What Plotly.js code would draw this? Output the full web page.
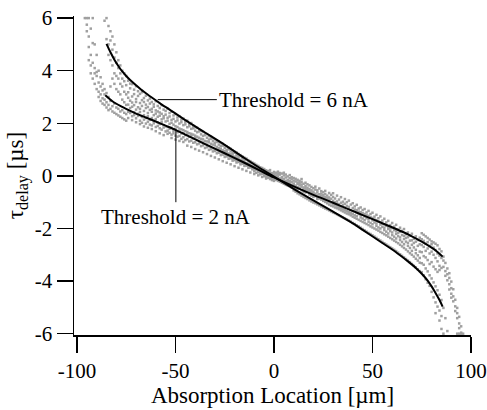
<!DOCTYPE html>
<html>
<head>
<meta charset="utf-8">
<script src="https://cdn.plot.ly/plotly-3.0.1.min.js"></script>
<style>html,body{margin:0;padding:0;background:#fff;}#chart{width:487px;height:410px;}</style>
</head>
<body>
<div id="chart"></div>
<script>
// Measured scatter: absorption location columns (µm) and the tau values (µs) seen in each column
const cloudX = [
-96,-95,-94,-93,-92,-91,-90,-89,-88,-87,-86,-85,-84,-83,-82,-81,-80,-79,-78,-77,-76,-75,
-74,-73,-72,-71,-70,-69,-68,-67,-66,-65,-64,-63,-62,-61,-60,-59,-58,-57,-56,-55,-54,-53,-52,-51,
-50,-49,-48,-47,-46,-45,-44,-43,-42,-41,-40,-39,-38,-37,-36,-35,-34,-33,-32,-31,-30,-29,-28,-27,
-26,-25,-24,-23,-22,-21,-20,-19,-18,-17,-16,-15,-14,-13,-12,-11,-10,-9,-8,-7,-6,-5,-4,-3,-2,-1,0,
1,2,3,4,5,6,7,8,9,10,11,12,13,14,15,16,17,18,19,20,21,22,23,24,25,26,27,28,29,30,
31,32,33,34,35,36,37,38,39,40,41,42,43,44,45,46,47,48,49,50,51,52,53,54,55,56,57,58,59,60,
61,62,63,64,65,66,67,68,69,70,71,72,73,74,75,76,77,78,79,80,81,82,83,84,85,86,87,88,89,90,
91,92,93,94,95,96
];
const cloudY = [
[6.0],[6.0,5.75,5.5],[6.0,5.3,4.9,4.4],[5.6,4.6,4.2,3.9],[6.0,5.05,4.3,3.7],[5.0,4.1,3.9,3.5],
[4.6,3.95,3.8,3.3],[4.0,3.55,3.2,3.0],[3.75,3.4,3.1,2.85],[3.5,3.25,2.95,2.75],[5.9,3.3,3.1,2.9,2.7],
[6.0,5.2,3.15,2.8,2.6],[5.7,5.0,4.6,3.0,2.7,2.5],[5.5,5.15,4.4,3.4,2.85,2.55],[5.3,4.8,4.2,3.7,2.65,2.45],
[5.0,4.5,3.9,3.5,2.75,2.4],[4.7,4.3,3.8,3.3,2.6,2.35],[4.4,4.1,3.7,3.2,2.55,2.3],[4.2,3.9,3.5,3.1,2.45,2.25],
[4.0,3.7,3.4,2.9,2.5,2.2],[3.9,3.6,3.2,2.8,2.4,2.15],[3.8,3.45,3.1,2.7,2.35,2.1],
[3.62,3.18,2.97,2.71,2.44,2.2],[3.51,3.33,2.86,2.58,2.39],[3.49,3.02,2.79,2.63,2.27,2.12],[3.28,3.11,2.69,2.42,2.31],
[3.41,2.92,2.81,2.52,2.19,2.04],[3.22,3.04,2.61,2.36,2.28],[3.12,2.77,2.55,2.43,2.1,1.97],[3.18,2.88,2.66,2.24,2.02],
[2.96,2.81,2.47,2.31,2.14,1.88],[3.05,2.71,2.58,2.2,1.99],[2.87,2.62,2.39,2.27,2.06,1.83],[2.94,2.75,2.51,2.13,1.95],
[2.81,2.55,2.44,2.2,1.92,1.78],[2.72,2.63,2.31,2.09,2.0],[2.84,2.49,2.37,2.16,1.86,1.7],[2.66,2.45,2.25,2.03,1.9],
[2.58,2.41,2.29,1.97,1.81,1.62],[2.69,2.36,2.15,2.04,1.76],[2.52,2.27,2.19,1.93,1.84,1.55],[2.47,2.33,2.07,1.88,1.69],
[2.55,2.21,2.1,1.86,1.72,1.6],[2.39,2.26,1.98,1.79,1.64],[2.44,2.13,2.02,1.83,1.57,1.44],[2.3,2.17,1.95,1.71,1.62],
[2.35,2.07,1.89,1.78,1.53,1.38],[2.22,2.11,1.86,1.66,1.49],[2.27,1.99,1.8,1.69,1.52,1.33],[2.14,2.04,1.77,1.61,1.41],
[2.18,1.93,1.74,1.63,1.47,1.29],[2.06,1.96,1.7,1.55,1.36],[2.1,1.85,1.67,1.58,1.4,1.15],[1.98,1.89,1.62,1.49,1.31],
[2.01,1.79,1.6,1.52,1.34,1.1],[1.9,1.81,1.57,1.43,1.26],[1.85,1.72,1.53,1.46,1.28,1.02],[1.83,1.66,1.49,1.37,1.2],
[1.76,1.69,1.45,1.33,1.23,0.96],[1.71,1.58,1.41,1.3,1.13],[1.68,1.52,1.39,1.27,1.16,0.9],[1.61,1.55,1.33,1.22,1.06],
[1.59,1.45,1.31,1.19,1.09,0.83],[1.52,1.38,1.28,1.13,0.99],[1.49,1.41,1.22,1.1,1.02,0.76],[1.43,1.32,1.19,1.05,0.93],
[1.39,1.26,1.16,1.01,0.95,0.7],[1.35,1.29,1.1,0.98,0.86],[1.3,1.19,1.06,0.93,0.88,0.63],[1.24,1.13,1.03,0.9,0.79],
[1.21,1.15,0.97,0.86,0.81,0.56],[1.16,1.06,0.94,0.82,0.72],[1.12,0.99,0.91,0.78,0.74,0.5],[1.07,1.01,0.85,0.75,0.65],
[1.03,0.93,0.82,0.71,0.67,0.44],[0.97,0.87,0.79,0.66,0.58],[0.92,0.88,0.73,0.63,0.6,0.37],[0.89,0.8,0.7,0.59,0.51],
[0.83,0.74,0.66,0.56,0.53,0.31],[0.79,0.75,0.61,0.52,0.44],[0.74,0.67,0.58,0.49,0.46,0.25],[0.69,0.61,0.55,0.45,0.38],
[0.66,0.62,0.49,0.42,0.39,0.19],[0.6,0.55,0.46,0.38,0.31],[0.56,0.49,0.43,0.34,0.32,0.13],[0.51,0.48,0.37,0.3,0.25],
[0.47,0.42,0.34,0.27,0.18,0.07],[0.42,0.35,0.31,0.23,0.12],[0.38,0.36,0.26,0.19,0.14,0.02],[0.33,0.29,0.22,0.16,0.06],
[0.3,0.23,0.19,0.12,0.08,-0.04],[0.26,0.22,0.14,0.08,-0.01],[0.21,0.16,0.11,0.05,-0.03,-0.1],[0.18,0.1,0.07,0.01,-0.07],
[0.13,0.09,0.02,-0.03,-0.12,0.22],[0.1,0.03,-0.02,-0.07,-0.16],[0.06,0.02,-0.05,-0.11,-0.19,0.15],
[0.12,-0.04,-0.09,0.02,-0.15],[-0.02,0.07,-0.14,-0.19,-0.08,0.16],[-0.17,0.05,-0.1,-0.22,0.11],[-0.05,-0.26,-0.13,0.09,-0.2],
[-0.11,-0.3,0.02,-0.21,-0.16,0.12],[-0.34,-0.06,-0.19,-0.25,0.05],[-0.15,-0.37,-0.28,-0.02,-0.22],[-0.09,-0.31,-0.4,-0.2,0.03,-0.27],
[-0.44,-0.13,-0.24,-0.35,-0.05],[-0.29,-0.55,-0.18,-0.4,-0.08,-0.34],[-0.21,-0.6,-0.37,-0.11,-0.45],[-0.66,-0.3,-0.15,-0.42,-0.5,-0.25],
[-0.36,-0.7,-0.19,-0.47,-0.28],[-0.23,-0.75,-0.41,-0.55,-0.33,-0.12],[-0.5,-0.8,-0.3,-0.44,-0.6],[-0.84,-0.38,-0.54,-0.26,-0.63,-0.47],
[-0.45,-0.88,-0.32,-0.6,-0.53],[-0.93,-0.5,-0.66,-0.36,-0.71,-0.58],[-0.42,-0.97,-0.63,-0.55,-0.75],[-0.6,-1.01,-0.47,-0.72,-0.8,-0.66],
[-1.04,-0.52,-0.77,-0.68,-0.41],[-0.63,-1.08,-0.83,-0.55,-0.74,-0.88],[-1.12,-0.7,-0.48,-0.86,-0.79],[-0.58,-1.16,-0.9,-0.75,-0.67,-0.84],
[-1.2,-0.81,-0.95,-0.62,-0.73],[-0.88,-1.24,-0.69,-0.99,-0.57,-0.8],[-1.27,-0.75,-0.93,-1.04,-0.85],[-0.65,-1.31,-0.98,-0.82,-1.09,-0.9],
[-1.35,-0.87,-0.72,-1.02,-1.13],[-0.95,-1.39,-0.8,-1.07,-1.16,-0.66],
[-1.42,-1.0,-0.86,-1.2,-1.1],[-0.75,-1.46,-1.13,-0.97,-1.23,-1.05],[-1.5,-0.9,-1.08,-1.27,-1.18],[-1.02,-1.54,-0.81,-1.31,-1.15,-1.22],
[-1.58,-1.1,-0.98,-1.35,-1.26],[-0.88,-1.62,-1.2,-1.39,-1.06,-1.3],[-1.66,-1.14,-1.34,-1.0,-1.43],[-1.25,-1.7,-0.94,-1.46,-1.37,-1.18],
[-1.74,-1.3,-1.09,-1.5,-1.41],[-1.04,-1.79,-1.45,-1.22,-1.55,-1.34],[-1.83,-1.28,-1.5,-1.16,-1.59],[-1.4,-1.88,-1.1,-1.63,-1.53,-1.3],
[-1.92,-1.45,-1.24,-1.67,-1.36],[-1.2,-1.97,-1.58,-1.49,-1.71,-1.38],[-2.02,-1.42,-1.62,-1.3,-1.75],[-1.54,-2.07,-1.26,-1.79,-1.68,-1.45],
[-2.12,-1.61,-1.39,-1.83,-1.5],[-1.33,-2.17,-1.74,-1.64,-1.87,-1.52],[-2.21,-1.57,-1.79,-1.45,-1.92],[-1.69,-2.26,-1.4,-1.96,-1.84,-1.6],
[-2.31,-1.77,-1.55,-2.0,-1.66],[-1.48,-2.36,-1.9,-1.81,-2.04,-1.68],[-2.41,-1.73,-1.96,-1.61,-2.08],[-1.85,-2.46,-1.54,-2.13,-2.0,-1.76],
[-2.51,-1.94,-1.7,-2.17,-1.83],[-1.63,-2.56,-2.06,-1.97,-2.22,-1.84],[-2.61,-1.9,-2.12,-1.77,-2.26],[-2.02,-2.66,-1.71,-2.31,-2.19,-1.93],
[-2.71,-2.1,-1.87,-2.36,-2.0],[-1.79,-2.76,-2.25,-2.15,-2.41,-1.98],
[-2.81,-2.06,-2.31,-1.93,-2.46],[-2.2,-2.86,-1.86,-2.51,-2.38,-2.1],[-2.92,-2.29,-2.04,-2.56,-2.17],[-1.97,-2.98,-2.44,-2.34,-2.62,-2.13],
[-3.04,-2.25,-2.51,-2.09,-2.68],[-2.4,-3.1,-2.02,-2.74,-2.6,-2.28],[-3.16,-2.5,-2.22,-2.8,-2.36],[-2.15,-3.22,-2.66,-2.55,-2.87,-2.33],
[-3.28,-2.46,-2.74,-2.27,-2.94],[-2.62,-3.35,-2.2,-3.0,-2.85,-2.45],[-3.42,-2.72,-2.39,-3.07,-2.55],[-2.3,-3.48,-2.94,-2.81,-3.15,-2.5],
[-3.55,-2.66,-3.02,-2.44,-3.22],[-2.88,-3.62,-2.35,-3.3,-3.12,-2.6],
[-2.18,-2.9,-2.41,-3.32,-2.63,-3.66],[-2.47,-2.24,-3.05,-2.7,-3.78,-3.38],[-2.3,-3.52,-2.58,-2.85,-3.93,-3.1],[-2.76,-2.36,-3.63,-3.2,-4.06,-2.52],
[-2.42,-3.35,-2.66,-4.18,-2.95,-3.78],[-2.88,-2.49,-3.9,-3.28,-4.41,-2.6],[-2.53,-4.05,-2.73,-3.45,-4.62,-3.0],[-3.12,-2.58,-4.2,-2.82,-4.81,-3.55,-5.22],
[-2.64,-3.65,-2.95,-4.35,-4.97,-3.25],[-2.78,-3.42,-3.03,-4.52,-5.12,-3.58,-5.5],[-3.12,-2.87,-4.72,-3.5,-5.33,-5.82],[-3.22,-3.07,-5.02,-3.46,-6.0],
[-3.62,-3.31,-5.41,-3.8],[-3.52,-3.97,-5.9,-3.74],[-3.88,-4.12,-3.7,-4.32],[-4.27,-4.02,-4.63,-4.48],
[-4.58,-4.31,-4.77],[-4.96,-4.71,-5.14],[-5.22,-5.02,-5.41,-6.0],[-5.61,-5.36,-5.79,-6.0],[-5.72,-5.96,-6.0],[-6.0]
];
// Fitted curves
const fit6X = [-85,-83,-81,-79,-77,-75,-73,-70,-66,-62,-58,-53,-45,-35,-25,-15,-7,0,10,20,30,38.6,45,55,60,64,68,72,75,78,80,82,84,85.6];
const fit6Y = [5.02,4.7,4.42,4.18,3.97,3.8,3.65,3.45,3.2,2.98,2.77,2.52,2.12,1.65,1.18,0.68,0.29,-0.03,-0.49,-0.93,-1.36,-1.74,-2.05,-2.55,-2.8,-3.02,-3.25,-3.5,-3.72,-3.98,-4.2,-4.45,-4.72,-4.97];
const fit2X = [-85.6,-82,-78,-74,-70,-65,-60,-55,-50,-45,-35,-25,-15,-7,0,10,20,30,38.6,45,55,62,69,75,80,83,85.6];
const fit2Y = [3.07,2.84,2.66,2.51,2.37,2.22,2.07,1.91,1.75,1.57,1.21,0.86,0.5,0.2,-0.06,-0.4,-0.72,-1.02,-1.29,-1.49,-1.8,-2.02,-2.26,-2.5,-2.73,-2.89,-3.07];
// Tick labels
const xTickVals = [-100,-50,0,50,100];
const xTickText = ['-100','-50','0','50','100'];
const yTickVals = [-6,-4,-2,0,2,4,6];
const yTickText = ['-6','-4','-2','0','2','4','6'];
const labels = ['Threshold = 6 nA','Threshold = 2 nA'];

const px = [], py = [];
cloudX.forEach((x, i) => { cloudY[i].forEach(y => { px.push(x); py.push(y); }); });

const FONT = '"Liberation Serif", "Times New Roman", Times, serif';
const traces = [
  {x: px, y: py, type: 'scatter', mode: 'markers', marker: {symbol: 'square', size: 2.5, color: '#a0a0a0'}, hoverinfo: 'skip'},
  {x: fit6X, y: fit6Y, type: 'scatter', mode: 'lines', line: {color: '#000', width: 2, shape: 'spline', smoothing: 0.8}},
  {x: fit2X, y: fit2Y, type: 'scatter', mode: 'lines', line: {color: '#000', width: 2, shape: 'spline', smoothing: 0.8}}
];
const layout = {
  width: 487, height: 410,
  margin: {l: 74, r: 16, t: 16, b: 75, pad: 0},
  paper_bgcolor: '#fff', plot_bgcolor: '#fff',
  showlegend: false,
  font: {family: FONT, size: 21, color: '#000'},
  xaxis: {range: [-101.5, 100], tickvals: xTickVals, ticktext: xTickText, ticks: 'outside', ticklen: 16, tickwidth: 1.5, tickcolor: '#000',
    ticklabeloverflow: 'allow',
    showline: true, linecolor: '#000', linewidth: 1.5, showgrid: false, zeroline: false,
    tickfont: {family: FONT, size: 21, color: '#000'}, title: {text: 'Absorption Location [µm]', font: {family: FONT, size: 23, color: '#000'}, standoff: 0}},
  yaxis: {range: [-6.05, 6.08], tickvals: yTickVals, ticktext: yTickText, ticks: 'outside', ticklen: 16, tickwidth: 1.5, tickcolor: '#000',
    showline: true, linecolor: '#000', linewidth: 1.5, showgrid: false, zeroline: false,
    tickfont: {family: FONT, size: 21, color: '#000'}, title: {text: 'τ<sub>delay</sub> [µs]', font: {family: FONT, size: 23, color: '#000'}, standoff: 4}},
  shapes: [
    {type: 'line', xref: 'x', yref: 'y', x0: -59, y0: 2.9, x1: -29, y1: 2.9, line: {color: '#000', width: 1}},
    {type: 'line', xref: 'x', yref: 'y', x0: -49.8, y0: 1.75, x1: -49.8, y1: -1.0, line: {color: '#000', width: 1}}
  ],
  annotations: [
    {x: -29, y: 2.9, xref: 'x', yref: 'y', text: labels[0], showarrow: false, xanchor: 'left', yanchor: 'middle', font: {family: FONT, size: 21, color: '#000'}},
    {x: -49.8, y: -1.55, xref: 'x', yref: 'y', text: labels[1], showarrow: false, xanchor: 'center', yanchor: 'middle', font: {family: FONT, size: 21, color: '#000'}}
  ]
};
Plotly.newPlot('chart', traces, layout, {displayModeBar: false, staticPlot: true});
</script>
</body>
</html>
